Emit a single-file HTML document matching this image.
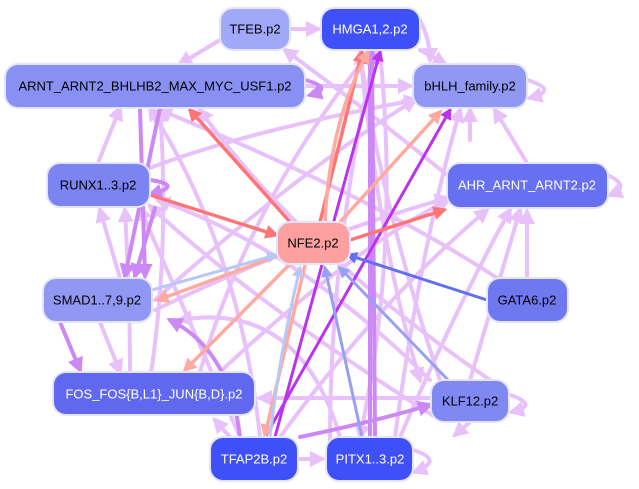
<!DOCTYPE html>
<html><head><meta charset="utf-8"><style>
html,body{margin:0;padding:0;background:#fff;width:639px;height:489px;overflow:hidden}
svg{display:block}
text{font-family:"Liberation Sans",sans-serif;font-size:13px;text-anchor:middle;dominant-baseline:central}
</style></head><body>
<svg width="639" height="489" viewBox="0 0 639 489">
<defs>
<marker id="a" markerWidth="4" markerHeight="4" refX="3" refY="2" orient="auto" markerUnits="strokeWidth"><path d="M0,0L4,2L0,4z" fill="context-stroke"/></marker>
</defs>
<g fill="none" stroke-width="4" stroke-linecap="round">
<g stroke="#e8c0fa" marker-end="url(#a)">
<path d="M290,29 L318,29"/>
<path d="M420,50 L445,64"/>
<path d="M220,40 L180,64"/>
<path d="M305,86 L410,86"/>
<path d="M98,163 L120,108"/>
<path d="M470,140 L470,110"/>
<path d="M447,175 Q380,120 285,50"/>
<path d="M527,163 L495,110"/>
<path d="M430,380 Q300,250 158,200"/>
<path d="M440,380 Q380,200 360,52"/>
<path d="M470,380 L520,210"/>
<path d="M431,398 L260,398"/>
<path d="M440,420 Q250,300 150,206"/>
<path d="M490,380 Q300,250 200,110"/>
<path d="M330,440 Q330,250 375,52"/>
<path d="M400,437 Q460,300 510,210"/>
<path d="M395,437 Q420,250 460,110"/>
<path d="M260,437 Q240,250 150,108"/>
<path d="M280,437 Q380,300 487,210"/>
<path d="M240,437 Q180,300 140,208"/>
<path d="M300,459 L322,459"/>
<path d="M230,437 L215,420 "/>
<path d="M120,278 L100,210"/>
<path d="M155,310 Q300,240 447,198"/>
<path d="M155,300 Q300,170 415,100"/>
<path d="M500,280 Q380,200 160,110"/>
<path d="M150,168 Q250,130 416,100"/>
<path d="M150,380 Q170,250 160,110"/>
<path d="M130,372 Q130,300 125,210"/>
<path d="M470,422 L455,435"/>
<path d="M527,278 L527,212"/>
<path d="M200,372 Q250,200 370,52"/>
<path d="M220,372 Q350,250 448,200"/>
<path d="M340,437 Q300,300 180,320"/>
<path d="M420,20 Q430,40 430,60"/>
<path d="M380,52 Q400,250 360,437"/>
<path d="M360,52 Q380,250 420,380"/>
<path d="M100,322 L120,372"/>
<path d="M600,172 Q635,185 610,195"/>
<path d="M527,80 Q560,90 530,98"/>
<path d="M510,395 Q540,405 512,412"/>
<path d="M413,450 Q445,460 415,472"/>
</g>
<g stroke="#cc88f4" marker-end="url(#a)">
<path d="M160,108 L125,276"/>
<path d="M140,108 L145,276"/>
<path d="M155,208 L135,276"/>
<path d="M300,437 Q380,420 430,405"/>
<path d="M370,437 L370,52"/>
<path d="M375,437 L372,52"/>
<path d="M240,437 Q230,350 170,320"/>
<path d="M150,180 Q185,185 150,195"/>
<path d="M305,80 Q335,88 310,95"/>
<path d="M60,322 L80,370"/>
</g>
<g stroke="#bb33f0" stroke-width="3" marker-end="url(#a)">
<path d="M265,437 L450,110"/>
<path d="M275,437 L380,52"/>
</g>
<g stroke="#ff7474" stroke-width="3.5" marker-end="url(#a)">
<path d="M150,195 L276,235"/>
<path d="M290,222 L190,110"/>
<path d="M320,222 L362,52"/>
<path d="M350,240 L444,210"/>
</g>
<g stroke="#ffaaa0" stroke-width="3.5" marker-end="url(#a)">
<path d="M340,222 L440,112"/>
<path d="M280,255 L158,300"/>
<path d="M290,264 L185,370"/>
<path d="M305,265 L265,435"/>
<path d="M325,222 Q330,120 368,52"/>
</g>
<g stroke="#6070f0" stroke-width="3" marker-end="url(#a)">
<path d="M487,300 L348,255"/>
</g>
<g stroke="#98a0f4" stroke-width="3" marker-end="url(#a)">
<path d="M362,437 L325,268"/>
<path d="M450,382 L340,268"/>
</g>
<g stroke="#b8c8f4" stroke-width="3" marker-end="url(#a)">
<path d="M152,290 L276,255"/>
<path d="M270,437 Q280,350 300,268"/>
</g>
</g>
<g stroke="#e4e4ff" stroke-width="2">
<rect x="220" y="8" width="70" height="42" rx="13" fill="#a0a8f8"/>
<rect x="321" y="8" width="99" height="42" rx="13" fill="#4050f8"/>
<rect x="5" y="64" width="300" height="44" rx="13" fill="#8890f4"/>
<rect x="413" y="64" width="114" height="44" rx="13" fill="#9098f4"/>
<rect x="47" y="163" width="103" height="44" rx="13" fill="#7c84f2"/>
<rect x="447" y="163" width="161" height="45" rx="13" fill="#6670f0"/>
<rect x="277" y="222" width="73" height="42" rx="13" fill="#ffa0a0"/>
<rect x="43" y="278" width="109" height="44" rx="13" fill="#9098f4"/>
<rect x="487" y="278" width="81" height="44" rx="13" fill="#7078f0"/>
<rect x="53" y="372" width="202" height="43" rx="13" fill="#6068f0"/>
<rect x="431" y="380" width="78" height="42" rx="13" fill="#8088f2"/>
<rect x="210" y="437" width="88" height="44" rx="13" fill="#4050f8"/>
<rect x="326" y="437" width="87" height="44" rx="13" fill="#4050f8"/>
</g>
<text x="255" y="29">TFEB.p2</text>
<text x="370" y="29" fill="#fff">HMGA1,2.p2</text>
<text x="155" y="86">ARNT_ARNT2_BHLHB2_MAX_MYC_USF1.p2</text>
<text x="470" y="86">bHLH_family.p2</text>
<text x="98" y="185">RUNX1..3.p2</text>
<text x="527" y="185" fill="#fff">AHR_ARNT_ARNT2.p2</text>
<text x="313" y="243">NFE2.p2</text>
<text x="97" y="300">SMAD1..7,9.p2</text>
<text x="527" y="300">GATA6.p2</text>
<text x="154" y="394" fill="#fff">FOS_FOS{B,L1}_JUN{B,D}.p2</text>
<text x="470" y="401">KLF12.p2</text>
<text x="254" y="459" fill="#fff">TFAP2B.p2</text>
<text x="370" y="459" fill="#fff">PITX1..3.p2</text>
</svg>
</body></html>
